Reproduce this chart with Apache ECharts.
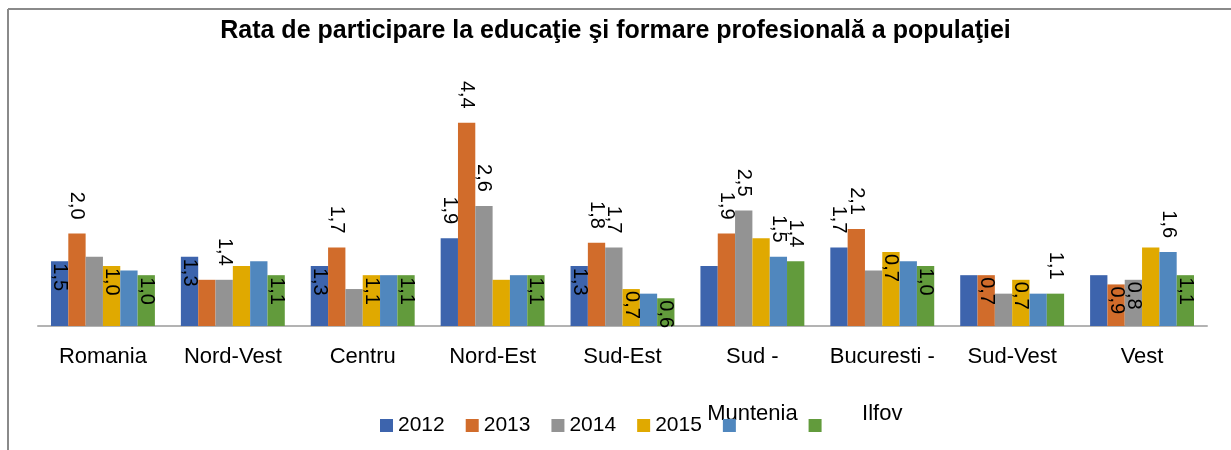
<!DOCTYPE html>
<html>
<head>
<meta charset="utf-8">
<script src="https://cdn.jsdelivr.net/npm/echarts@6/dist/echarts.min.js"></script>
<style>
  html, body { margin: 0; padding: 0; background: #fff; }
  #chart { width: 1231px; height: 450px; }
</style>
</head>
<body>
<div id="chart"></div>
<script>
var regions = ['Romania', 'Nord-Vest', 'Centru', 'Nord-Est', 'Sud-Est', 'Sud -\nMuntenia', 'Bucuresti -\nIlfov', 'Sud-Vest', 'Vest'];
var years = ['2012', '2013', '2014', '2015', '2016', '2017'];

// bar heights
var v2012 = [1.4, 1.5, 1.3, 1.9, 1.3, 1.3, 1.7, 1.1, 1.1];
var v2013 = [2.0, 1.0, 1.7, 4.4, 1.8, 2.0, 2.1, 1.1, 0.9];
var v2014 = [1.5, 1.0, 0.8, 2.6, 1.7, 2.5, 1.2, 0.7, 1.0];
var v2015 = [1.3, 1.3, 1.1, 1.0, 0.8, 1.9, 1.6, 1.0, 1.7];
var v2016 = [1.2, 1.4, 1.1, 1.1, 0.7, 1.5, 1.4, 0.7, 1.6];
var v2017 = [1.1, 1.1, 1.1, 1.1, 0.6, 1.4, 1.3, 0.7, 1.1];

// data label texts as printed on the chart ('' = no label)
var t2012 = ['1,5', '1,3', '1,3', '1,9', '1,3', '', '1,7', '', ''];
var t2013 = ['2,0', '', '1,7', '4,4', '1,8', '1,9', '2,1', '0,7', '0,9'];
var t2014 = ['', '1,4', '', '2,6', '1,7', '2,5', '', '', '0,8'];
var t2015 = ['1,0', '', '1,1', '', '0,7', '', '0,7', '0,7', ''];
var t2016 = ['', '', '', '', '', '1,5', '', '', '1,6'];
var t2017 = ['1,0', '1,1', '1,1', '1,1', '0,6', '1,4', '1,0', '1,1', '1,1'];

var values = [v2012, v2013, v2014, v2015, v2016, v2017];
var texts = [t2012, t2013, t2014, t2015, t2016, t2017];
var colors = ['#3d64ad', '#d16c2b', '#939393', '#e0a900', '#5087be', '#629b3c'];

// which labels sit above the bar (the rest start just inside the top)
var above = {
  0: [3, 6],
  1: [0, 2, 3, 4, 5, 6],
  2: [1, 3, 4, 5],
  3: [],
  4: [5, 8],
  5: [5, 7]
};

var buildData = function (s) {
  var out = [];
  for (var i = 0; i < values[s].length; i++) {
    var txt = texts[s][i];
    var up = above[s].indexOf(i) > -1;
    out.push({
      value: values[s][i],
      label: {
        show: txt !== '',
        formatter: txt,
        position: up ? 'top' : 'insideTop',
        distance: up ? 14 : 2,
        rotate: -90,
        align: up ? 'right' : 'left',
        verticalAlign: 'middle'
      }
    });
  }
  return out;
};

var series = [];
for (var s = 0; s < years.length; s++) {
  series.push({
    name: years[s],
    type: 'bar',
    barGap: 0,
    barCategoryGap: '20%',
    itemStyle: { color: colors[s] },
    label: {
      color: '#000',
      fontSize: 20,
      fontFamily: '"Liberation Sans", Arial, sans-serif'
    },
    data: buildData(s)
  });
}

var legendData = [];
for (var k = 0; k < years.length; k++) {
  // the last two legend entries show no text in the original
  if (k < 4) {
    legendData.push(years[k]);
  } else {
    legendData.push({ name: years[k], textStyle: { color: 'rgba(0,0,0,0)' } });
  }
}

var myChart = echarts.init(document.getElementById('chart'));
var option = {
  backgroundColor: '#fff',
  animation: false,
  title: {
    text: 'Rata de participare la educaţie şi formare profesională a populaţiei',
    left: 'center',
    top: 14,
    textStyle: {
      color: '#000',
      fontSize: 25,
      fontWeight: 'bold',
      fontFamily: '"Liberation Sans", Arial, sans-serif'
    }
  },
  legend: {
    data: legendData,
    left: 375,
    top: 410,
    itemWidth: 13,
    itemHeight: 13,
    itemGap: 21,
    icon: 'rect',
    textStyle: {
      color: '#000',
      fontSize: 21,
      fontFamily: '"Liberation Sans", Arial, sans-serif'
    }
  },
  grid: {
    left: 38,
    right: 24,
    top: 95,
    bottom: 124
  },
  xAxis: {
    type: 'category',
    data: regions,
    axisLine: { lineStyle: { color: '#b3b3b3', width: 2 } },
    axisTick: { show: false },
    axisLabel: {
      interval: 0,
      margin: 2,
      lineHeight: 57,
      color: '#000',
      fontSize: 22,
      fontFamily: '"Liberation Sans", Arial, sans-serif'
    }
  },
  yAxis: {
    type: 'value',
    min: 0,
    max: 5,
    show: false
  },
  graphic: [
    { type: 'line', shape: { x1: 8, y1: 9, x2: 1231, y2: 9 }, style: { stroke: '#8a8a8a', lineWidth: 2 } },
    { type: 'line', shape: { x1: 8, y1: 9, x2: 8, y2: 450 }, style: { stroke: '#8a8a8a', lineWidth: 2 } }
  ],
  series: series
};
myChart.setOption(option);

window.onresize = function () {
  myChart.resize();
};
</script>
</body>
</html>
